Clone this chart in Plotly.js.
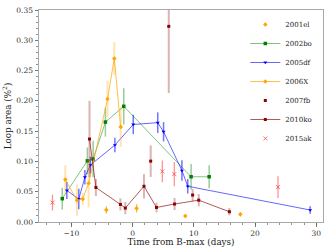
<!DOCTYPE html>
<html>
<head>
<meta charset="utf-8">
<script src="https://cdn.plot.ly/plotly-3.0.1.min.js"></script>
<style>html,body{margin:0;padding:0;background:#fff;}#chart{width:334px;height:251px;}</style>
</head>
<body>
<div id="chart"></div>
<script>
// 2001el
const t2001el = [-4.3, 0.65, 8.6, 17.6];
const a2001el = [0.020, 0.0225, 0.010, 0.0126];
const e2001el = [0.006, 0.007, 0.003, 0.003];
// 2002bo
const t2002bo = [-11.5, -7.4, -6.45, -4.45, -1.45, 9.55, 12.5];
const a2002bo = [0.0385, 0.101, 0.104, 0.165, 0.191, 0.0747, 0.0747];
const e2002bo = [0.018, 0.022, 0.03, 0.024, 0.03, 0.021, 0.019];
// 2005df
const t2005df = [-10.75, -8.8, -7.8, -6.9, -2.9, 0.1, 4.1, 5.05, 8.05, 9.0, 29.0];
const a2005df = [0.052, 0.038, 0.074, 0.094, 0.127, 0.161, 0.164, 0.149, 0.085, 0.059, 0.0198];
const e2005df = [0.014, 0.017, 0.012, 0.014, 0.012, 0.016, 0.017, 0.016, 0.017, 0.012, 0.006];
// 2006X
const t2006X = [-11.0, -9.1, -8.15, -7.2, -4.1, -3.0, -1.95];
const a2006X = [0.070, 0.036, 0.038, 0.064, 0.203, 0.270, 0.157];
const e2006X = [0.024, 0.026, 0.01, 0.04, 0.03, 0.027, 0.033];
// 2007fb
const t2007fb = [2.95, 5.9, 9.8];
const a2007fb = [0.1005, 0.323, 0.0445];
const e2007fb = [0.026, 0.11, 0.01];
// 2010ko
const t2010ko = [-7.05, -6.0, -2.0, -1.2, 1.85, 3.9, 6.85, 10.8, 15.8];
const a2010ko = [0.137, 0.057, 0.029, 0.023, 0.059, 0.024, 0.0297, 0.036, 0.017];
const e2010ko = [0.063, 0.014, 0.01, 0.01, 0.02, 0.008, 0.01, 0.01, 0.006];
// 2015ak
const t2015ak = [-13.1, 4.85, 6.8, 23.75];
const a2015ak = [0.032, 0.0835, 0.079, 0.0577];
const e2015ak = [0.013, 0.018, 0.02, 0.018];

const traces = [
  {name:'2001el', x:t2001el, y:a2001el, mode:'markers',
   marker:{color:'#FFA500', symbol:'diamond', size:3.5},
   error_y:{type:'data', array:e2001el, color:'rgba(255,165,0,0.8)', thickness:1.2, width:0}},
  {name:'2002bo', x:t2002bo, y:a2002bo, mode:'lines+markers',
   line:{color:'rgba(0,128,0,0.55)', width:0.9},
   marker:{color:'#008000', symbol:'square', size:3.5},
   error_y:{type:'data', array:e2002bo, color:'rgba(0,128,0,0.4)', thickness:1.5, width:0}},
  {name:'2005df', x:t2005df, y:a2005df, mode:'lines+markers',
   line:{color:'rgba(0,0,255,0.6)', width:1},
   marker:{color:'#0000FF', symbol:'triangle-down', size:3.5},
   error_y:{type:'data', array:e2005df, color:'rgba(0,0,255,0.55)', thickness:1.5, width:0}},
  {name:'2006X', x:t2006X, y:a2006X, mode:'lines+markers',
   line:{color:'rgba(255,165,0,0.7)', width:1},
   marker:{color:'#FFA500', symbol:'diamond', size:3.5},
   error_y:{type:'data', array:e2006X, color:'rgba(255,165,0,0.3)', thickness:2, width:0}},
  {name:'2007fb', x:t2007fb, y:a2007fb, mode:'markers',
   marker:{color:'#8B0000', symbol:'square', size:3},
   error_y:{type:'data', array:e2007fb, color:'rgba(139,0,0,0.3)', thickness:2, width:0}},
  {name:'2010ko', x:t2010ko, y:a2010ko, mode:'lines+markers',
   line:{color:'rgba(139,0,0,0.65)', width:1},
   marker:{color:'#8B0000', symbol:'square', size:3},
   error_y:{type:'data', array:e2010ko, color:'rgba(139,0,0,0.3)', thickness:2, width:0}},
  {name:'2015ak', x:t2015ak, y:a2015ak, mode:'markers',
   marker:{color:'rgba(255,60,60,0.6)', symbol:'x-thin', size:4, line:{color:'rgba(255,60,60,0.7)', width:1}},
   error_y:{type:'data', array:e2015ak, color:'rgba(255,60,60,0.6)', thickness:1.2, width:0}}
];

const axFont = {family:'DejaVu Serif', size:7.5, color:'#333'};
const layout = {
  width:334, height:251,
  margin:{l:39, r:11, t:10, b:29, pad:0},
  paper_bgcolor:'#fff', plot_bgcolor:'#fff',
  font:{family:'DejaVu Serif', color:'#222'},
  showlegend:true,
  legend:{x:0.98, y:1.0, xanchor:'right', yanchor:'top', bgcolor:'rgba(0,0,0,0)',
          font:{family:'DejaVu Serif', size:7, color:'#222'}, tracegroupgap:0, itemwidth:30},
  xaxis:{range:[-15.3, 31.1], tickvals:[-10,0,10,20,30], ticks:'outside', ticklen:3.5, tickwidth:0.8,
         tickcolor:'#555', showline:true, linecolor:'#aaa', linewidth:1, mirror:true,
         showgrid:false, zeroline:false, tickfont:axFont,
         minor:{dtick:2, ticks:'outside', ticklen:2, tickcolor:'#777', showgrid:false},
         title:{text:'Time from B-max (days)', font:{family:'DejaVu Serif', size:8.8, color:'#222'}, standoff:2}},
  yaxis:{range:[0, 0.35], dtick:0.05, tickformat:'.2f', ticks:'outside', ticklen:3.5, tickwidth:0.8,
         tickcolor:'#555', showline:true, linecolor:'#aaa', linewidth:1, mirror:true,
         showgrid:false, zeroline:false, tickfont:axFont,
         minor:{dtick:0.01, ticks:'outside', ticklen:2, tickcolor:'#777', showgrid:false},
         title:{text:'Loop area (%<sup>2</sup>)', font:{family:'DejaVu Serif', size:8.8, color:'#222'}, standoff:3}}
};
Plotly.newPlot('chart', traces, layout, {displayModeBar:false, staticPlot:true});
</script>
</body>
</html>
